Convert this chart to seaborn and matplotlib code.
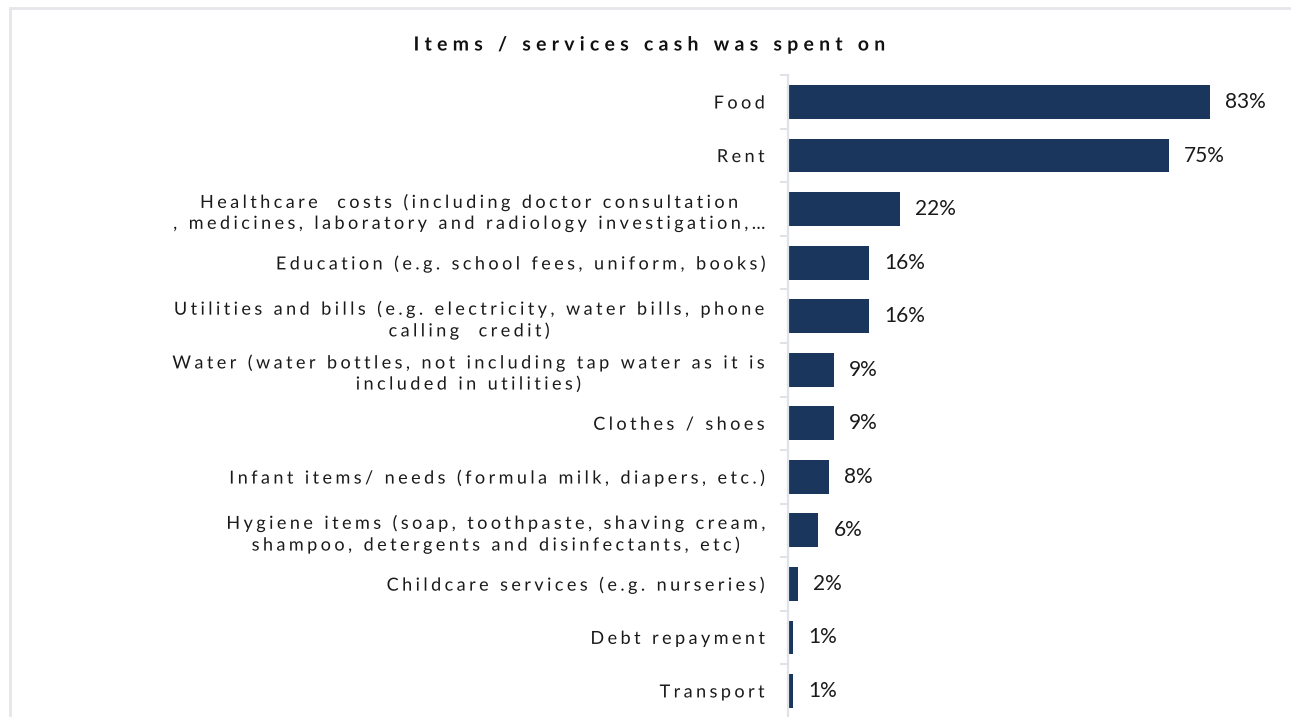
import numpy as np
import pandas as pd
import matplotlib
matplotlib.use("Agg")
import matplotlib.pyplot as plt
import seaborn as sns
from matplotlib import patheffects
from matplotlib.path import Path
from matplotlib.patches import Rectangle
from matplotlib.font_manager import FontProperties
from matplotlib.textpath import text_to_path

# ---- data -------------------------------------------------------------
title = "Items / services cash was spent on"
categories = [
    "Food",
    "Rent",
    "Healthcare  costs (including doctor consultation\n, medicines, laboratory and radiology investigation,\u2026",
    "Education (e.g. school fees, uniform, books)",
    "Utilities and bills (e.g. electricity, water bills, phone\ncalling  credit)",
    "Water (water bottles, not including tap water as it is\nincluded in utilities)",
    "Clothes / shoes",
    "Infant items/ needs (formula milk, diapers, etc.)",
    "Hygiene items (soap, toothpaste, shaving cream,\nshampoo, detergents and disinfectants, etc)",
    "Childcare services (e.g. nurseries)",
    "Debt repayment",
    "Transport",
]
shares = [83, 75, 22, 16, 16, 9, 9, 8, 6, 2, 1, 1]
value_labels = [f"{v}%" for v in shares]

BAR_COLOR = "#1b365d"
GRID_GRAY = "#dfe2e7"
TEXT_COLOR = "#1a1a1a"


# ---- letter spacing for text drawn as paths ----------------------------
class LetterSpacing(patheffects.AbstractPathEffect):
    """Adds a fixed gap (fraction of the em) after every character.

    Text paths are laid out at 100 units per em; the per-character vertex
    counts tell which vertices belong to which character, so each glyph is
    moved right by its index times the gap."""

    def __init__(self, text, prop, tracking=0.25, align="right"):
        super().__init__()
        track = tracking * 100.0
        self.align = align
        self.layouts = []
        for line in text.split("\n"):
            verts, codes = text_to_path.get_text_path(prop, line)
            verts = np.asarray(verts, dtype=float)
            shifts = np.zeros(len(verts))
            pos = 0
            for k, ch in enumerate(line):
                n = len(text_to_path.get_text_path(prop, ch)[1])
                shifts[pos:pos + n] = k * track
                pos += n
            add = track * (len(line) - 1)
            self.layouts.append((verts, shifts, add))
        self.max_add = max(a for _, _, a in self.layouts)

    def draw_path(self, renderer, gc, tpath, affine, rgbFace=None):
        verts = np.array(tpath.vertices, dtype=float)
        codes = tpath.codes
        for ref_verts, shifts, add in self.layouts:
            if len(ref_verts) == len(verts) and np.allclose(ref_verts, verts, atol=1e-3):
                if self.align == "right":
                    base = -(self.max_add + add) / 2.0
                else:
                    base = -add / 2.0
                verts[:, 0] += shifts + base
                break
        renderer.draw_path(gc, Path(verts, codes), affine, rgbFace)


# ---- figure -----------------------------------------------------------
sns.set_theme(style="white")
plt.rcParams["font.family"] = ["Lato", "DejaVu Sans"]

W, H = 1291, 717
fig = plt.figure(figsize=(W / 100, H / 100), dpi=100)
ax = fig.add_axes([788 / W, -0.001, 0.3738, 0.896])

df = pd.DataFrame({"category": categories, "share": shares})
sns.barplot(data=df, y="category", x="share", orient="h", color=BAR_COLOR,
            saturation=1, width=0.63, linewidth=0, ax=ax)

ax.set_xlim(0, 95)
ax.set_xlabel("")
ax.set_ylabel("")
ax.set_xticks([])
for side in ("top", "right", "bottom"):
    ax.spines[side].set_visible(False)
ax.spines["left"].set_color(GRID_GRAY)
ax.spines["left"].set_linewidth(1.6)

# category boundary tick marks
ax.set_yticks(np.arange(-0.5, len(categories), 1.0), minor=True)
ax.tick_params(axis="y", which="minor", length=6, width=1.4, color=GRID_GRAY, left=True)
ax.tick_params(axis="y", which="major", length=0, pad=17, labelsize=13, labelcolor=TEXT_COLOR)

label_prop = FontProperties(family=["Lato", "DejaVu Sans"], size=13)
for lab in ax.get_yticklabels():
    lab.set_multialignment("center")
    lab.set_linespacing(1.38)
    lab.set_path_effects([LetterSpacing(lab.get_text(), label_prop, 0.19, "right")])

ax.bar_label(ax.containers[0], labels=value_labels, padding=11,
             fontsize=15, color=TEXT_COLOR)

title_prop = FontProperties(family=["Lato", "DejaVu Sans"], size=14, weight="bold")
fig.text(650 / W, 1 - 45 / H, title, ha="center", va="center",
         fontproperties=title_prop, color="#111111",
         path_effects=[LetterSpacing(title, title_prop, 0.27, "center")])

# outer frame
fig.patches.append(Rectangle((10 / W, -0.1), 1.2, 1.1 - 8 / H, transform=fig.transFigure,
                             fill=False, edgecolor="#e4e6ea", linewidth=2, zorder=0))

fig.savefig("out.png", dpi=100, facecolor="white")
